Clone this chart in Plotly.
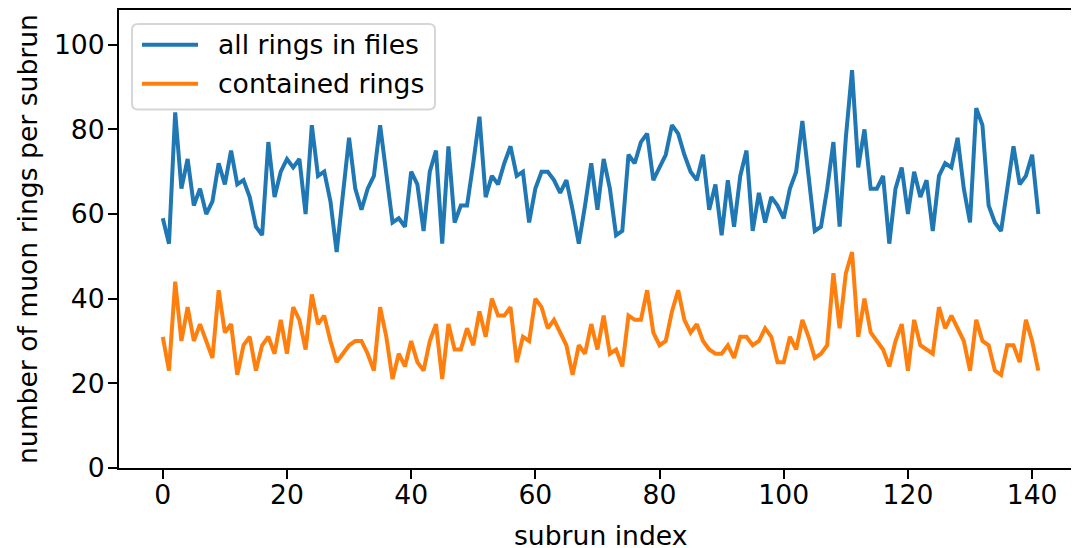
import plotly.graph_objects as go

# rings per subrun
subrun = list(range(142))
all_rings = [
    59, 53, 84, 66, 73, 62, 66, 60, 63, 72, 67, 75, 67, 68, 64, 57, 55, 77, 64, 70,
    73, 71, 73, 60, 81, 69, 70, 63, 51, 64, 78, 66, 61, 66, 69, 81, 70, 58, 59, 57,
    70, 67, 56, 70, 75, 53, 76, 58, 62, 62, 72, 83, 64, 69, 67, 72, 76, 69, 70, 58,
    66, 70, 70, 68, 65, 68, 61, 53, 62, 72, 61, 73, 66, 55, 56, 74, 72, 77, 79, 68,
    71, 74, 81, 79, 74, 70, 68, 74, 61, 67, 55, 68, 57, 69, 75, 56, 65, 58, 64, 62,
    59, 66, 70, 82, 69, 56, 57, 66, 77, 57, 78, 94, 71, 80, 66, 66, 69, 53, 66, 71,
    60, 70, 64, 68, 56, 69, 72, 71, 78, 66, 58, 85, 81, 62, 58, 56, 66, 76, 67, 69,
    74, 60,
]
contained = [
    31, 23, 44, 30, 38, 30, 34, 30, 26, 42, 32, 34, 22, 29, 31, 23, 29, 31, 27, 35,
    27, 38, 35, 28, 41, 34, 36, 30, 25, 27, 29, 30, 30, 27, 23, 38, 31, 21, 27, 24,
    30, 25, 23, 30, 34, 21, 34, 28, 28, 33, 29, 37, 31, 40, 36, 36, 38, 25, 31, 30,
    40, 38, 33, 35, 32, 29, 22, 29, 27, 34, 28, 36, 27, 28, 24, 36, 35, 35, 42, 32,
    29, 30, 37, 42, 35, 32, 34, 30, 28, 27, 27, 29, 26, 31, 31, 29, 30, 33, 31, 25,
    25, 31, 28, 35, 31, 26, 27, 29, 46, 33, 46, 51, 31, 40, 32, 30, 28, 24, 30, 34,
    23, 35, 29, 28, 27, 38, 33, 36, 33, 30, 23, 35, 30, 29, 23, 22, 29, 29, 25, 35,
    30, 23,
]
series_names = ["all rings in files", "contained rings"]
colors = ["#1f77b4", "#ff7f0e"]

FONT = dict(family="DejaVu Sans", size=26.6, color="black")

fig = go.Figure()
for name, vals, c in zip(series_names, [all_rings, contained], colors):
    fig.add_trace(go.Scatter(x=subrun, y=vals, mode="lines", name=name,
                             line=dict(color=c, width=4)))

# plot area in page pixels: left 119, right 1079, top 8, bottom 468
# (the html body adds an 8px margin, so figure coords are page - 8)
def px(x):
    return (x - 119) / 960

def py(y):
    return (468 - y) / 460

# legend drawn by hand to get matplotlib-like sample lines
x0, x1, y0, y1 = px(132), px(435), py(108), py(22)
rx, ry = 6 / 960, 6 / 460
path = (f"M{x0+rx},{y0} L{x1-rx},{y0} Q{x1},{y0} {x1},{y0+ry} "
        f"L{x1},{y1-ry} Q{x1},{y1} {x1-rx},{y1} L{x0+rx},{y1} "
        f"Q{x0},{y1} {x0},{y1-ry} L{x0},{y0+ry} Q{x0},{y0} {x0+rx},{y0} Z")
fig.add_shape(type="path", path=path, xref="paper", yref="paper",
              line=dict(color="#d6d6d6", width=2), fillcolor="rgba(255,255,255,0.8)")
for k, (name, c) in enumerate(zip(series_names, colors)):
    ly = py(43 + 39 * k)
    fig.add_shape(type="line", xref="paper", yref="paper", x0=px(142), x1=px(198),
                  y0=ly, y1=ly, line=dict(color=c, width=4))
    fig.add_annotation(text=name, xref="paper", yref="paper", x=px(216), y=ly,
                       xanchor="left", yanchor="middle", showarrow=False, font=FONT)

fig.add_annotation(text="subrun index", xref="paper", yref="paper", x=px(600), y=py(536),
                   xanchor="center", yanchor="middle", showarrow=False, font=FONT)
fig.add_annotation(text="number of muon rings per subrun", xref="paper", yref="paper",
                   x=px(27), y=py(238), textangle=-90, xanchor="center", yanchor="middle",
                   showarrow=False, font=FONT)

axis_common = dict(showgrid=False, zeroline=False, showline=True, linecolor="black",
                   linewidth=2, ticks="outside", ticklen=9, tickwidth=2,
                   tickcolor="black", tickfont=FONT)
fig.update_xaxes(range=[-7.05, 147.55], tickvals=list(range(0, 141, 20)),
                 mirror=True, ticklabelstandoff=-7, **axis_common)
fig.update_yaxes(range=[0, 108.2], tickvals=list(range(0, 101, 20)),
                 ticklabelstandoff=-2, **axis_common)

fig.update_layout(width=1071, height=548, showlegend=False,
                  margin=dict(l=111, r=0, t=0, b=88),
                  plot_bgcolor="white", paper_bgcolor="white", font=FONT)

fig.write_html("out.html")
